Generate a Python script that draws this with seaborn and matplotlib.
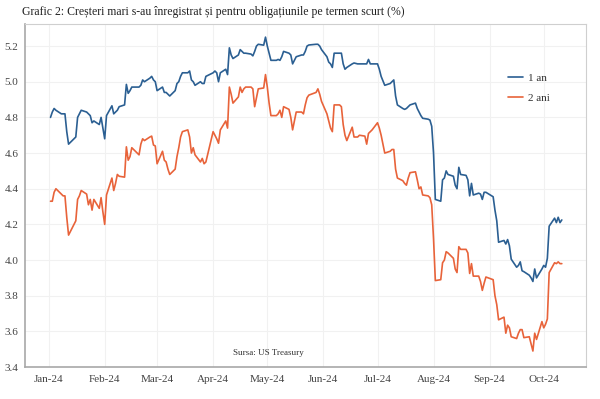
import matplotlib
matplotlib.use("Agg")
import matplotlib.pyplot as plt
import matplotlib.dates as mdates
import seaborn as sns
import pandas as pd
import numpy as np

# ---- data ----
holidays = ["2024-01-15", "2024-02-19", "2024-03-29", "2024-05-27",
            "2024-06-19", "2024-07-04", "2024-09-02"]
start_date = "2024-01-02"
end_date = "2024-10-11"

y1_jan = [4.80, 4.83, 4.85, 4.84, 4.82, 4.82, 4.82, 4.72, 4.65, 4.69, 4.80,
          4.82, 4.84, 4.83, 4.82, 4.81, 4.77, 4.78, 4.76, 4.80, 4.74]
y1_feb = [4.68, 4.81, 4.865, 4.82, 4.83, 4.84, 4.86, 4.87, 4.985, 4.935, 4.95,
          4.97, 4.97, 4.98, 5.01, 5.00, 5.02, 5.03, 5.01, 5.00]
y1_mar = [4.95, 4.97, 4.94, 4.94, 4.93, 4.92, 4.95, 4.99, 5.00, 5.03, 5.05,
          5.05, 5.06, 5.01, 5.00, 4.98, 5.00, 4.99, 4.99, 5.03]
y1_apr = [5.05, 5.06, 5.05, 5.00, 5.05, 5.07, 5.04, 5.19, 5.15, 5.13, 5.15,
          5.18, 5.17, 5.16, 5.16, 5.155, 5.145, 5.17, 5.20, 5.21, 5.205, 5.25]
y1_may = [5.20, 5.16, 5.12, 5.12, 5.125, 5.12, 5.14, 5.17, 5.16, 5.15, 5.10,
          5.12, 5.14, 5.15, 5.15, 5.17, 5.20, 5.206, 5.21, 5.21, 5.20, 5.18]
y1_jun = [5.14, 5.11, 5.10, 5.08, 5.16, 5.16, 5.16, 5.10, 5.07, 5.08, 5.10,
          5.105, 5.10, 5.10, 5.10, 5.10, 5.125, 5.10, 5.10]
y1_jul = [5.10, 5.07, 5.03, 4.98, 4.99, 5.00, 5.01, 4.92, 4.87, 4.85, 4.845,
          4.85, 4.86, 4.87, 4.88, 4.85, 4.83, 4.81, 4.795, 4.79, 4.785, 4.75]
y1_aug = [4.60, 4.34, 4.33, 4.45, 4.46, 4.50, 4.48, 4.47, 4.42, 4.40, 4.52,
          4.48, 4.475, 4.45, 4.36, 4.43, 4.365, 4.375, 4.37, 4.34, 4.38, 4.38]
y1_sep = [4.355, 4.28, 4.22, 4.10, 4.11, 4.09, 4.115, 4.08, 4.005, 3.96, 3.97,
          3.99, 3.94, 3.935, 3.915, 3.90, 3.88, 3.95, 3.90, 3.95]
y1_oct = [3.97, 3.96, 4.01, 4.19, 4.235, 4.21, 4.24, 4.21, 4.225]

y2_jan = [4.33, 4.33, 4.38, 4.40, 4.37, 4.36, 4.36, 4.24, 4.14, 4.22, 4.34,
          4.36, 4.39, 4.37, 4.31, 4.34, 4.28, 4.34, 4.29, 4.35, 4.27]
y2_feb = [4.20, 4.365, 4.46, 4.39, 4.43, 4.48, 4.47, 4.465, 4.635, 4.56, 4.58,
          4.63, 4.59, 4.65, 4.68, 4.67, 4.69, 4.695, 4.645, 4.64]
y2_mar = [4.54, 4.61, 4.56, 4.55, 4.51, 4.48, 4.51, 4.58, 4.63, 4.69, 4.72,
          4.73, 4.69, 4.60, 4.63, 4.59, 4.55, 4.57, 4.54, 4.55]
y2_apr = [4.72, 4.70, 4.68, 4.655, 4.73, 4.78, 4.74, 4.97, 4.93, 4.88, 4.915,
          4.97, 4.94, 4.96, 4.97, 4.97, 4.96, 4.86, 4.91, 4.96, 4.965, 5.04]
y2_may = [4.97, 4.88, 4.81, 4.81, 4.82, 4.84, 4.80, 4.86, 4.845, 4.80, 4.73,
          4.78, 4.83, 4.83, 4.82, 4.87, 4.91, 4.925, 4.94, 4.96, 4.93, 4.89]
y2_jun = [4.82, 4.78, 4.74, 4.72, 4.87, 4.87, 4.86, 4.76, 4.70, 4.67, 4.745,
          4.69, 4.69, 4.70, 4.695, 4.65, 4.71, 4.72, 4.73]
y2_jul = [4.77, 4.74, 4.70, 4.60, 4.61, 4.62, 4.62, 4.51, 4.46, 4.445, 4.43,
          4.42, 4.46, 4.49, 4.495, 4.45, 4.40, 4.41, 4.365, 4.36, 4.35, 4.31]
y2_aug = [4.12, 3.885, 3.89, 3.985, 4.00, 4.047, 4.04, 4.01, 3.95, 3.93, 4.075,
          4.06, 4.06, 4.04, 3.925, 3.98, 3.91, 3.91, 3.88, 3.83, 3.87, 3.905]
y2_sep = [3.89, 3.80, 3.75, 3.665, 3.68, 3.59, 3.635, 3.62, 3.57, 3.56, 3.59,
          3.61, 3.61, 3.565, 3.57, 3.53, 3.49, 3.59, 3.555, 3.655]
y2_oct = [3.62, 3.64, 3.67, 3.93, 3.985, 3.98, 3.99, 3.98, 3.98]

series_names = ["1 an", "2 ani"]
title = "Grafic 2: Creșteri mari s-au înregistrat și pentru obligațiunile pe termen scurt (%)"
source = "Sursa: US Treasury"
y_ticks = [3.4, 3.6, 3.8, 4.0, 4.2, 4.4, 4.6, 4.8, 5.0, 5.2]

# ---- build table ----
dates = pd.bdate_range(start_date, end_date, freq="C", holidays=holidays)
one_year = (y1_jan + y1_feb + y1_mar + y1_apr + y1_may + y1_jun + y1_jul
            + y1_aug + y1_sep + y1_oct)
two_year = (y2_jan + y2_feb + y2_mar + y2_apr + y2_may + y2_jun + y2_jul
            + y2_aug + y2_sep + y2_oct)
n = min(len(dates), len(one_year), len(two_year))
df = pd.concat([
    pd.DataFrame({"date": dates[:n], "value": one_year[:n], "serie": series_names[0]}),
    pd.DataFrame({"date": dates[:n], "value": two_year[:n], "serie": series_names[1]}),
])

# ---- plot ----
sns.set_theme(style="white")
plt.rcParams["font.family"] = ["Liberation Serif", "DejaVu Serif"]

fig = plt.figure(figsize=(6.0, 3.99), dpi=100)
ax = fig.add_axes([0.042, 0.080, 0.935, 0.860])

palette = {series_names[0]: "#2b5f92", series_names[1]: "#e8633a"}
sns.lineplot(data=df, x="date", y="value", hue="serie", palette=palette,
             linewidth=1.2, ax=ax)

ax.set_xlim(pd.Timestamp("2023-12-19"), pd.Timestamp("2024-10-24 12:00"))
ax.set_ylim(3.4, 5.324)
ax.set_yticks(y_ticks)
ax.yaxis.set_major_formatter(matplotlib.ticker.FormatStrFormatter("%.1f"))
ax.xaxis.set_major_locator(mdates.MonthLocator())
ax.xaxis.set_major_formatter(mdates.DateFormatter("%b-%y"))
ax.set_xlabel("")
ax.set_ylabel("")

ax.grid(True, color="#f1f1f1", linewidth=0.8)
ax.tick_params(axis="both", which="major", labelsize=8, colors="#444444",
               length=3, width=0.8, direction="out", pad=2)
ax.tick_params(axis="x", pad=3)
for side in ["top", "right"]:
    ax.spines[side].set_color("#cfcfcf")
    ax.spines[side].set_linewidth(0.8)
for side in ["left", "bottom"]:
    ax.spines[side].set_color("#a8a8a8")
    ax.spines[side].set_linewidth(1.2)

leg = ax.legend(loc="upper left", bbox_to_anchor=(0.843, 0.885), frameon=False,
                fontsize=8, handlelength=1.3, handletextpad=0.5, labelspacing=0.9)
for t in leg.get_texts():
    t.set_color("#333333")

ax.text(0.433, 0.04, source, transform=ax.transAxes, ha="center", va="center",
        fontsize=6.5, color="#333333")

fig.text(0.037, 0.970, title, ha="left", va="center", fontsize=8.5, color="#222222")

fig.savefig("out.png", dpi=100)
